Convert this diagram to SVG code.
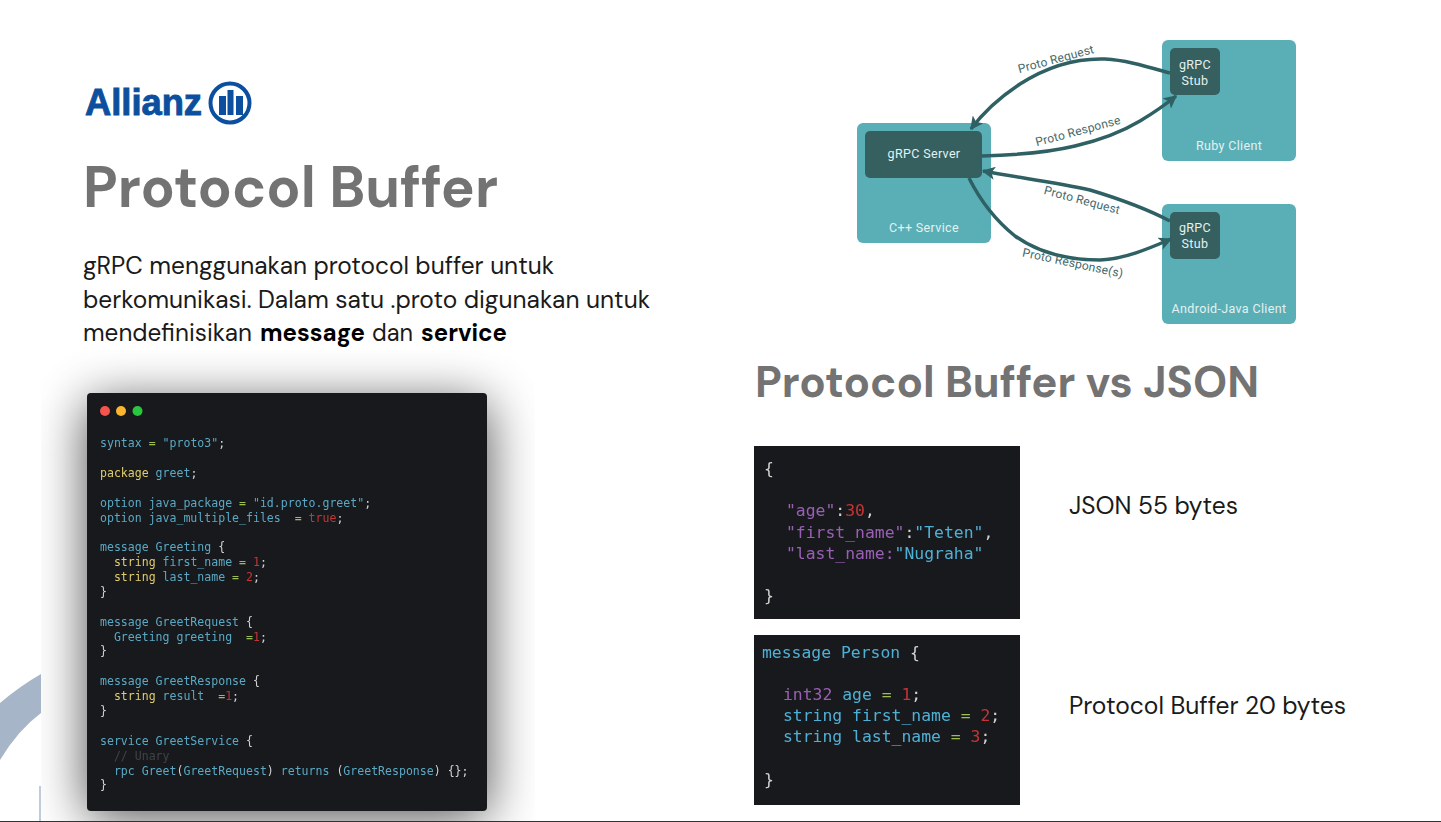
<svg xmlns="http://www.w3.org/2000/svg" width="1441" height="822" viewBox="0 0 1441 822">
<style>
.h{font-family:"DM Sans","Lato","Liberation Sans",sans-serif;font-weight:700;fill:#737373}
.b{font-family:"DM Sans","Lato","Liberation Sans",sans-serif;font-size:24px;fill:#1a1a1a}
.m{font-weight:700;fill:#000}
.c{font-family:"DejaVu Sans Mono",monospace;font-size:11.55px;fill:#5aa8c4;white-space:pre}
.j{font-family:"DejaVu Sans Mono",monospace;font-size:16.4px;white-space:pre}
.y{fill:#e0cc6a}.r{fill:#c43535}.g{fill:#9bbf55}.w{fill:#d2d2d2}.p{fill:#9a5fb5}.s{fill:#4fb0d6}
.d{font-family:"Roboto","Liberation Sans",sans-serif;font-size:12.5px;letter-spacing:.35px;fill:#e4f1f1;text-anchor:middle}
.l{font-family:"Roboto","Liberation Sans",sans-serif;font-size:12px;letter-spacing:.2px;fill:#44696c;text-anchor:middle}
.box{fill:#5aafb6}.dk{fill:#35605f}
.e{fill:none;stroke:#2f6063;stroke-width:3.500}
</style>
<defs>
<marker id="a" viewBox="0 0 10 10" refX="9" refY="5" markerWidth="3.800" markerHeight="3.800" orient="auto" markerUnits="strokeWidth"><path d="M0 0L10 5L0 10L2.500 5Z" fill="#2f6063"/></marker>
<filter id="sh" x="-30%" y="-30%" width="160%" height="160%"><feGaussianBlur stdDeviation="26"/></filter>
<filter id="soft" x="-2%" y="-2%" width="104%" height="104%"><feGaussianBlur stdDeviation=".3"/></filter>
<clipPath id="cl"><rect x="41" y="350" width="494" height="472"/></clipPath>
</defs>
<rect width="1441" height="822" fill="#fff"/>
<path d="M0 703Q20 686 41 674V713Q18 730 0 760Z" fill="#a6b6c8"/>
<rect x="39" y="786" width="2" height="36" fill="#c0ccd8"/>
<g id="logo"><text x="85" y="115" font-family="Liberation Sans,sans-serif" font-weight="700" font-size="36" fill="#0b4f9e" stroke="#0b4f9e" stroke-width=".9" textLength="117" lengthAdjust="spacingAndGlyphs">Allianz</text>
<circle cx="230" cy="103" r="19.500" fill="none" stroke="#0b4f9e" stroke-width="4"/>
<path d="M219 96h7v19h-7zM227.500 90h6v25h-6zM236 96h7v19h-7z" fill="#0b4f9e"/></g>
<text class="h" x="83" y="207" font-size="58" textLength="415" lengthAdjust="spacingAndGlyphs">Protocol Buffer</text>
<text class="b" x="83" y="274" textLength="471" lengthAdjust="spacingAndGlyphs">gRPC menggunakan protocol buffer untuk</text>
<text class="b" x="83" y="308" textLength="567" lengthAdjust="spacingAndGlyphs">berkomunikasi. Dalam satu .proto digunakan untuk</text>
<text class="b" x="83" y="341" textLength="169" lengthAdjust="spacingAndGlyphs">mendefinisikan</text>
<text class="b m" x="260" y="341" textLength="105" lengthAdjust="spacingAndGlyphs">message</text>
<text class="b" x="372" y="341" textLength="41" lengthAdjust="spacingAndGlyphs">dan</text>
<text class="b m" x="421" y="341" textLength="86" lengthAdjust="spacingAndGlyphs">service</text>
<g clip-path="url(#cl)"><rect x="87" y="403" width="400" height="414" fill="#000" opacity=".7" filter="url(#sh)"/></g>
<g id="code-window">
<rect x="87" y="393" width="400" height="418" rx="4" fill="#17191c"/>
<circle cx="105" cy="411" r="5" fill="#f5544d"/><circle cx="121" cy="411" r="5" fill="#fab42e"/><circle cx="137.500" cy="411" r="5" fill="#29c63f"/>
<g filter="url(#soft)">
<text class="c" x="100" y="447">syntax <tspan class="g">=</tspan> "proto3"<tspan class="w">;</tspan></text>
<text class="c" x="100" y="477"><tspan class="y">package</tspan> greet<tspan class="w">;</tspan></text>
<text class="c" x="100" y="507">option java_package <tspan class="g">=</tspan> "id.proto.greet"<tspan class="w">;</tspan></text>
<text class="c" x="100" y="522">option java_multiple_files  <tspan class="g">=</tspan> <tspan class="r">true</tspan><tspan class="w">;</tspan></text>
<text class="c" x="100" y="551">message Greeting <tspan class="w">{</tspan></text>
<text class="c" x="100" y="566">  <tspan class="y">string</tspan> first_name <tspan class="g">=</tspan> <tspan class="r">1</tspan><tspan class="w">;</tspan></text>
<text class="c" x="100" y="581">  <tspan class="y">string</tspan> last_name <tspan class="g">=</tspan> <tspan class="r">2</tspan><tspan class="w">;</tspan></text>
<text class="c w" x="100" y="596">}</text>
<text class="c" x="100" y="626">message GreetRequest <tspan class="w">{</tspan></text>
<text class="c" x="100" y="641">  Greeting greeting  <tspan class="g">=</tspan><tspan class="r">1</tspan><tspan class="w">;</tspan></text>
<text class="c w" x="100" y="655">}</text>
<text class="c" x="100" y="685">message GreetResponse <tspan class="w">{</tspan></text>
<text class="c" x="100" y="700">  <tspan class="y">string</tspan> result  <tspan class="g">=</tspan><tspan class="r">1</tspan><tspan class="w">;</tspan></text>
<text class="c w" x="100" y="715">}</text>
<text class="c" x="100" y="745">service GreetService <tspan class="w">{</tspan></text>
<text class="c" x="100" y="760" style="fill:#3f4347">  // Unary</text>
<text class="c" x="100" y="775">  rpc Greet<tspan class="w">(</tspan>GreetRequest<tspan class="w">)</tspan> returns <tspan class="w">(</tspan>GreetResponse<tspan class="w">)</tspan> <tspan class="w">{};</tspan></text>
<text class="c w" x="100" y="789">}</text>
</g></g>
<g id="cpp-service"><rect class="box" x="857" y="123" width="134" height="120" rx="6"/><text class="d" x="924" y="232">C++ Service</text></g>
<g id="grpc-server"><rect class="dk" x="865" y="131" width="117" height="47" rx="5"/><text class="d" x="924" y="158">gRPC Server</text></g>
<g id="ruby-client"><rect class="box" x="1162" y="40" width="134" height="121" rx="6"/><text class="d" x="1229" y="150">Ruby Client</text></g>
<g id="ruby-stub"><rect class="dk" x="1170" y="48" width="50" height="47" rx="5"/><text class="d" x="1195" y="69">gRPC</text><text class="d" x="1195" y="85">Stub</text></g>
<g id="android-client"><rect class="box" x="1162" y="204" width="134" height="120" rx="6"/><text class="d" x="1229" y="313">Android-Java Client</text></g>
<g id="android-stub"><rect class="dk" x="1170" y="212" width="50" height="47" rx="5"/><text class="d" x="1195" y="232">gRPC</text><text class="d" x="1195" y="248">Stub</text></g>
<g id="connectors">
<path class="e" marker-end="url(#a)" d="M1170 73C1145 66 1125 60 1105 59C1075 58 1045 68 1020 84C1000 97 985 110 971 129"/>
<path class="e" marker-end="url(#a)" d="M982 156C1020 155 1050 152 1075 146C1105 139 1125 130 1140 121C1155 112 1165 105 1176 96"/>
<path class="e" marker-end="url(#a)" d="M1170 221C1145 208 1120 199 1090 190C1055 182 1020 178 983 171"/>
<path class="e" marker-end="url(#a)" d="M969 178C980 200 995 220 1015 236C1040 254 1070 260 1100 260C1125 259 1150 248 1171 239"/>
</g>
<g id="edge-labels">
<text class="l" transform="translate(1057 63) rotate(-15)">Proto Request</text>
<text class="l" transform="translate(1079 135) rotate(-15)">Proto Response</text>
<text class="l" transform="translate(1081 204) rotate(15)">Proto Request</text>
<text class="l" transform="translate(1072 267) rotate(12)">Proto Response(s)</text>
</g>
<text class="h" x="755" y="397" font-size="45" textLength="504" lengthAdjust="spacingAndGlyphs">Protocol Buffer vs JSON</text>
<g id="json-code"><rect x="754" y="446" width="266" height="173" fill="#17191c"/>
<g filter="url(#soft)">
<text class="j w" x="764" y="474">{</text>
<text class="j p" x="786" y="516">"age"<tspan class="w">:</tspan><tspan class="r">30</tspan><tspan class="w">,</tspan></text>
<text class="j p" x="786" y="538">"first_name"<tspan class="w">:</tspan><tspan class="s">"Teten"</tspan><tspan class="w">,</tspan></text>
<text class="j p" x="786" y="559">"last_name:<tspan class="s">"Nugraha"</tspan></text>
<text class="j w" x="764" y="601">}</text></g></g>
<g id="proto-code"><rect x="754" y="635" width="266" height="170" fill="#17191c"/>
<g filter="url(#soft)">
<text class="j s" x="762" y="658">message Person <tspan class="w">{</tspan></text>
<text class="j s" x="783" y="700"><tspan class="p">int32</tspan> age <tspan class="g">=</tspan> <tspan class="r">1</tspan><tspan class="w">;</tspan></text>
<text class="j s" x="783" y="721">string first_name <tspan class="g">=</tspan> <tspan class="r">2</tspan><tspan class="w">;</tspan></text>
<text class="j s" x="783" y="742">string last_name <tspan class="g">=</tspan> <tspan class="r">3</tspan><tspan class="w">;</tspan></text>
<text class="j w" x="764" y="785">}</text></g></g>
<text class="b" x="1069" y="514" textLength="169" lengthAdjust="spacingAndGlyphs">JSON 55 bytes</text>
<text class="b" x="1069" y="714" textLength="277" lengthAdjust="spacingAndGlyphs">Protocol Buffer 20 bytes</text>
<rect x="0" y="821" width="1441" height="1" fill="#333"/>
</svg>
